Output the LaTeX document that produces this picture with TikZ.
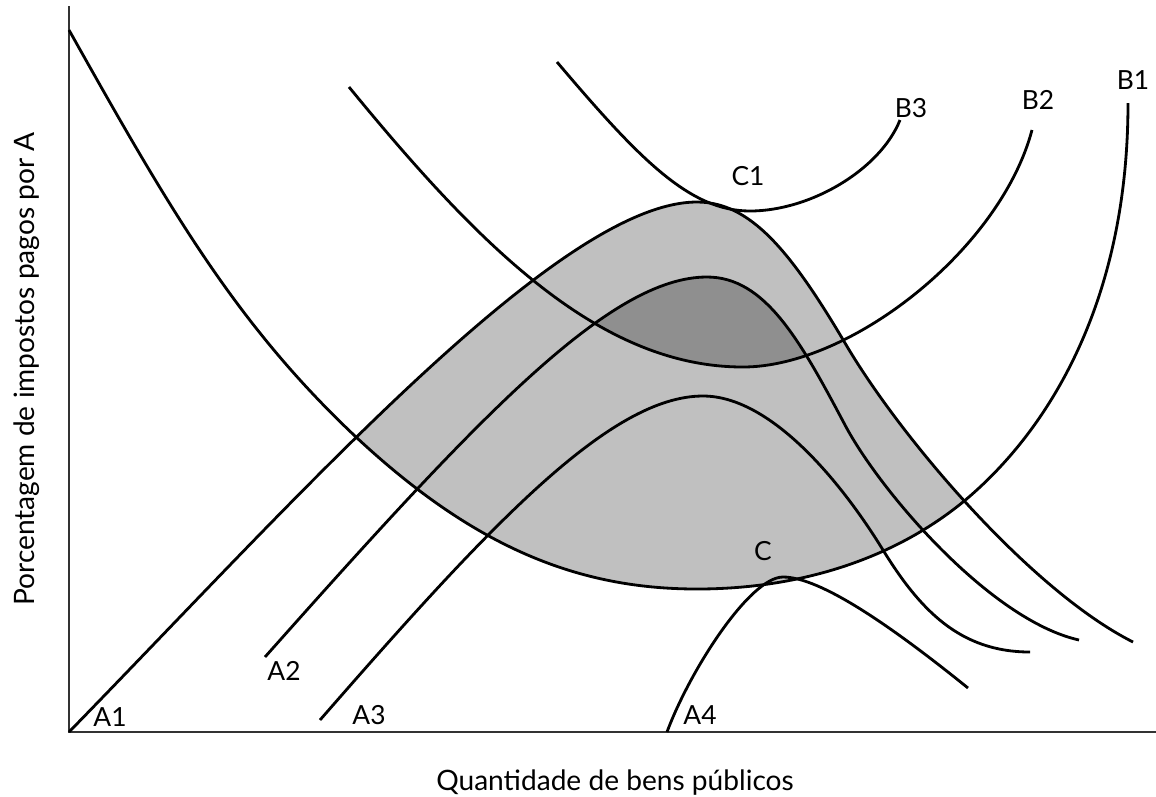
\documentclass[tikz,border=0pt]{standalone}
\usepackage{fontspec}
\setmainfont{Lato}
\usepackage{xcolor}
\definecolor{zonelight}{HTML}{C0C0C0}
\definecolor{zonedark}{HTML}{8F8F8F}
\definecolor{axisgray}{HTML}{333333}

% indifference curves of A (humps) and B (valleys)
\newcommand\curveAone{(69,732) .. controls (300,495) and (560,202) .. (697,202) .. controls (750,202) and (790,250) .. (845,343) .. controls (900,437) and (1030,590) .. (1133,642)}
\newcommand\curveAtwo{(265,657) .. controls (480,415) and (610,277) .. (707,277) .. controls (765,277) and (800,340) .. (845,425) .. controls (880,491) and (990,620) .. (1079,640)}
\newcommand\curveAthree{(320,720) .. controls (490,525) and (610,396) .. (703,396) .. controls (770,396) and (840,480) .. (883,550) .. controls (920,610) and (960,652) .. (1030,652)}
\newcommand\curveAfour{(667,732) .. controls (690,670) and (750,577) .. (783,577) .. controls (820,577) and (890,625) .. (968,688)}
\newcommand\curveBone{(69,30) .. controls (170,210) and (236,324) .. (356,437) .. controls (476,549) and (580,589) .. (697,589) .. controls (800,589) and (893,559) .. (963,502) .. controls (1050,430) and (1128,300) .. (1128,103)}
\newcommand\curveBtwo{(349,87) .. controls (480,247) and (600,367) .. (743,367) .. controls (850,367) and (1000,250) .. (1032,130)}
\newcommand\curveBthree{(557,62) .. controls (640,160) and (690,211) .. (750,211) .. controls (810,211) and (880,170) .. (900,120)}

\begin{document}
\begin{tikzpicture}[x=0.02cm, y=-0.02cm,
    curve/.style={line width=1.6pt, line join=round},
    axis/.style={line width=1.1pt, axisgray},
    lbl/.style={inner sep=0pt, font=\fontsize{15}{17}\selectfont},
    axislbl/.style={inner sep=0pt, anchor=base, font=\fontsize{16}{19}\selectfont},
  ]
  \useasboundingbox (0,0) rectangle (1156,796);

  % shaded zones
  \begin{scope}
    \clip \curveBone -- (1128,0) -- (69,0) -- cycle;
    \fill[zonelight] \curveAone -- (1133,732) -- (69,732) -- cycle;
  \end{scope}
  \begin{scope}
    \clip \curveBtwo -- (1032,0) -- (349,0) -- cycle;
    \fill[zonedark] \curveAtwo -- (1079,732) -- (265,732) -- cycle;
  \end{scope}

  % axes
  \coordinate (top) at (69,6);
  \coordinate (origin) at (69,732);
  \coordinate (right) at (1156,732);
  \draw[axis] (top) -- (origin) -- (right);

  \draw[curve] \curveAone;
  \draw[curve] \curveAtwo;
  \draw[curve] \curveAthree;
  \draw[curve] \curveAfour;
  \draw[curve] \curveBone;
  \draw[curve] \curveBtwo;
  \draw[curve] \curveBthree;

  \node[lbl] (labA1) at (110,717) {A1};
  \node[lbl] (labA2) at (284,671) {A2};
  \node[lbl] (labA3) at (369,715) {A3};
  \node[lbl] (labA4) at (700,715) {A4};
  \node[lbl] (labB1) at (1133,80) {B1};
  \node[lbl] (labB2) at (1038,100) {B2};
  \node[lbl] (labB3) at (911,108) {B3};
  \node[lbl] (labC1) at (748,176) {C1};
  \node[lbl] (labC) at (763,551) {C};

  \node[axislbl] (xlab) at (615,790) {Quantidade de bens públicos};
  \node[axislbl, rotate=90] (ylab) at (34,369) {Porcentagem de impostos pagos por A};
\end{tikzpicture}
\end{document}
